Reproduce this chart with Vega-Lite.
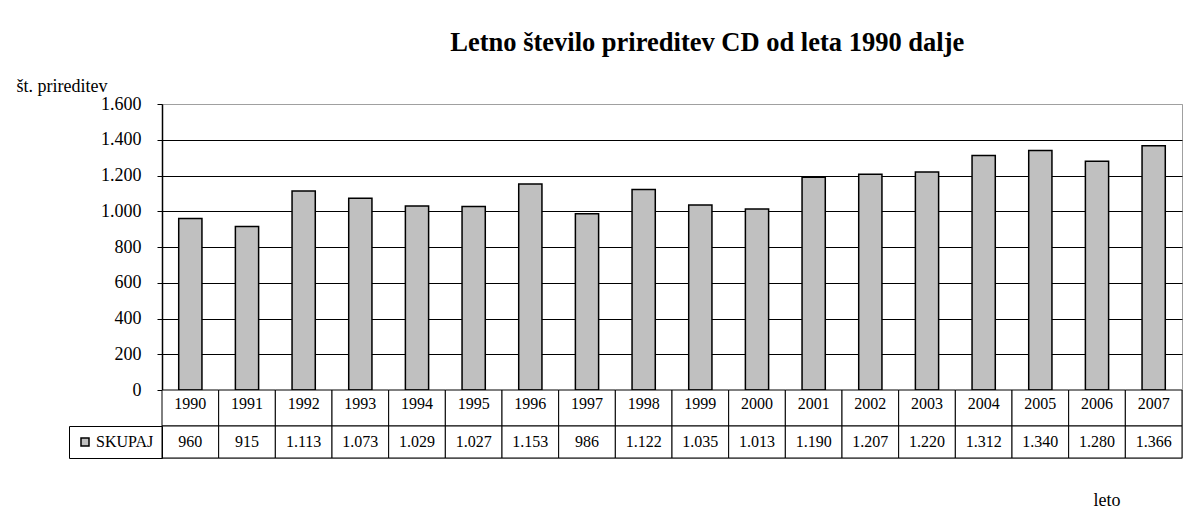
{
  "$schema": "https://vega.github.io/schema/vega-lite/v6.json",
  "padding": {"left": 15, "top": 30, "right": 0, "bottom": 0},
  "background": "white",
  "title": {
    "text": "Letno število prireditev CD od leta 1990 dalje",
    "font": "Liberation Serif",
    "fontSize": 26.5,
    "fontWeight": "bold",
    "color": "black",
    "anchor": "middle",
    "dx": 108,
    "offset": 20
  },
  "datasets": {
    "d": [
      {"leto": 1990, "vrednost": 960, "serie": "SKUPAJ"},
      {"leto": 1991, "vrednost": 915, "serie": "SKUPAJ"},
      {"leto": 1992, "vrednost": 1113, "serie": "SKUPAJ"},
      {"leto": 1993, "vrednost": 1073, "serie": "SKUPAJ"},
      {"leto": 1994, "vrednost": 1029, "serie": "SKUPAJ"},
      {"leto": 1995, "vrednost": 1027, "serie": "SKUPAJ"},
      {"leto": 1996, "vrednost": 1153, "serie": "SKUPAJ"},
      {"leto": 1997, "vrednost": 986, "serie": "SKUPAJ"},
      {"leto": 1998, "vrednost": 1122, "serie": "SKUPAJ"},
      {"leto": 1999, "vrednost": 1035, "serie": "SKUPAJ"},
      {"leto": 2000, "vrednost": 1013, "serie": "SKUPAJ"},
      {"leto": 2001, "vrednost": 1190, "serie": "SKUPAJ"},
      {"leto": 2002, "vrednost": 1207, "serie": "SKUPAJ"},
      {"leto": 2003, "vrednost": 1220, "serie": "SKUPAJ"},
      {"leto": 2004, "vrednost": 1312, "serie": "SKUPAJ"},
      {"leto": 2005, "vrednost": 1340, "serie": "SKUPAJ"},
      {"leto": 2006, "vrednost": 1280, "serie": "SKUPAJ"},
      {"leto": 2007, "vrednost": 1366, "serie": "SKUPAJ"}
    ]
  },
  "spacing": 0,
  "bounds": "flush",
  "resolve": {"scale": {"fill": "independent"}, "legend": {"fill": "independent"}},
  "vconcat": [
    {
      "data": {"name": "d"},
      "width": 1020,
      "height": 286,
      "mark": {"type": "bar", "fill": "#c0c0c0", "stroke": "black", "strokeWidth": 1.5, "width": {"band": 0.41}},
      "encoding": {
        "x": {"field": "leto", "type": "ordinal", "scale": {"paddingInner": 0, "paddingOuter": 0}, "axis": null},
        "y": {
          "field": "vrednost",
          "type": "quantitative",
          "scale": {"domain": [0, 1600], "nice": false},
          "axis": {
            "values": [0, 200, 400, 600, 800, 1000, 1200, 1400, 1600],
            "format": ",d",
            "title": "št. prireditev",
            "titleAngle": 0,
            "titleX": -146,
            "titleY": -13,
            "titleAlign": "left",
            "titleBaseline": "alphabetic",
            "titleFont": "Liberation Serif",
            "titleFontSize": 18,
            "titleFontWeight": "normal",
            "titleColor": "black",
            "labelFont": "Liberation Serif",
            "labelFontSize": 18,
            "labelColor": "black",
            "labelPadding": 16,
            "tickSize": 5,
            "tickColor": "black",
            "domainColor": "black",
            "domainWidth": 1.5,
            "grid": true,
            "gridColor": {"condition": {"test": "datum.value === 1600", "value": "#a0a0a0"}, "value": "black"},
            "gridOpacity": 1,
            "gridWidth": 1
          }
        }
      }
    },
    {
      "data": {"name": "d"},
      "width": 1020,
      "height": 36,
      "encoding": {
        "x": {"field": "leto", "type": "ordinal", "scale": {"paddingInner": 0, "paddingOuter": 0}, "axis": null}
      },
      "layer": [
        {"mark": {"type": "rect", "fill": "white", "stroke": "black", "strokeWidth": 1}},
        {
          "mark": {"type": "text", "font": "Liberation Serif", "fontSize": 16, "color": "black", "dy": -4},
          "encoding": {"text": {"field": "leto", "type": "ordinal"}}
        }
      ]
    },
    {
      "data": {"name": "d"},
      "width": 1020,
      "height": 32,
      "encoding": {
        "x": {
          "field": "leto", "type": "ordinal",
          "scale": {"paddingInner": 0, "paddingOuter": 0},
          "axis": {
            "title": "leto",
            "labels": false,
            "ticks": false,
            "domain": false,
            "titleX": 931,
            "titleY": 47,
            "titleAlign": "left",
            "titleBaseline": "alphabetic",
            "titleFont": "Liberation Serif",
            "titleFontSize": 18,
            "titleFontWeight": "normal",
            "titleColor": "black"
          }
        }
      },
      "layer": [
        {"mark": {"type": "rect", "fill": "white", "stroke": "black", "strokeWidth": 1}},
        {
          "mark": {"type": "square", "size": 0, "filled": true, "opacity": 1},
          "encoding": {
            "fill": {
              "field": "serie",
              "type": "nominal",
              "scale": {"range": ["#c0c0c0"]},
              "legend": {
                "title": null,
                "orient": "left",
                "offset": 0,
                "padding": 8,
                "strokeColor": "black",
                "symbolType": "square",
                "symbolSize": 64,
                "symbolStrokeColor": "black",
                "symbolStrokeWidth": 1.5,
                "labelFont": "Liberation Serif",
                "labelFontSize": 16,
                "labelColor": "black",
                "labelOffset": 3,
                "labelExpr": "datum.label + '  '",
                "encode": {"symbols": {"update": {"stroke": {"value": "black"}, "strokeWidth": {"value": 1.5}}}}
              }
            }
          }
        },
        {
          "mark": {"type": "text", "font": "Liberation Serif", "fontSize": 16, "color": "black"},
          "encoding": {
            "text": {"field": "vrednost", "type": "quantitative", "format": ",d"}
          }
        }
      ]
    }
  ],
  "config": {
    "font": "Liberation Serif",
    "view": {"stroke": "#a0a0a0"},
    "locale": {
      "number": {"decimal": ",", "thousands": ".", "grouping": [3], "currency": ["", " €"]}
    }
  }
}
